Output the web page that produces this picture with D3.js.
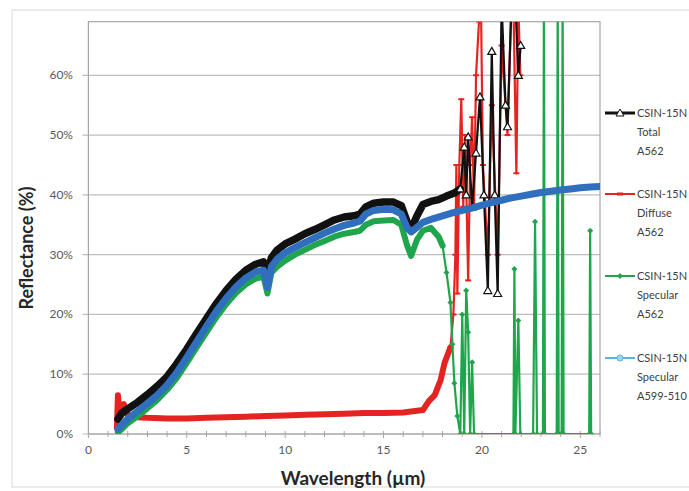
<!DOCTYPE html>
<html><head><meta charset="utf-8">
<script src="https://cdn.jsdelivr.net/npm/d3@7"></script>
<style>body{margin:0;background:#fff}svg{display:block}</style>
</head><body>
<svg id="c" width="689" height="491"></svg>
<script>
// ---- data ----
const xTicks = [0, 5, 10, 15, 20, 25];
const yTicks = [0, 10, 20, 30, 40, 50, 60];
const legendNames = [
  ["CSIN-15N", "Total", "A562"],
  ["CSIN-15N", "Diffuse", "A562"],
  ["CSIN-15N", "Specular", "A562"],
  ["CSIN-15N", "Specular", "A599-510"]
];
const total = [[1.5,2.5],[1.7,3.5],[2.0,4.2],[2.5,5.3],[3.0,6.6],[3.5,8.0],[4.0,9.6],[4.5,11.8],[5.0,14.2],[5.5,16.8],[6.0,19.3],[6.5,21.8],[7.0,24.0],[7.5,25.9],[8.0,27.4],[8.5,28.4],[8.9,28.8],[9.1,27.0],[9.3,29.5],[9.6,30.8],[10,31.8],[10.5,32.6],[11,33.5],[11.5,34.2],[12,35.0],[12.5,35.8],[13,36.3],[13.5,36.5],[13.8,36.8],[14.1,38.0],[14.5,38.6],[15,38.8],[15.5,38.8],[15.9,38.2],[16.2,35.5],[16.4,34.3],[16.7,36.5],[17.0,38.4],[17.4,38.9],[17.8,39.2],[18.2,39.8],[18.6,40.3],[18.9,41],[19.1,48],[19.2,40],[19.3,49.7],[19.5,38],[19.7,47],[19.9,56.4],[20.1,40],[20.3,24],[20.5,64],[20.65,40],[20.8,23.5],[21.0,72],[21.2,55],[21.3,51.4],[21.5,72],[21.7,72],[21.85,60],[21.97,65]];
const diffuse = [[1.45,1],[1.5,6.5],[1.6,3],[1.8,5],[2.0,3.2],[2.5,2.8],[3,2.7],[4,2.6],[5,2.6],[6,2.7],[7,2.8],[8,2.9],[9,3.0],[10,3.1],[11,3.2],[12,3.3],[13,3.4],[14,3.5],[15,3.5],[16,3.6],[17,4.0],[17.3,5.5],[17.6,6.5],[17.9,9],[18.1,11.9],[18.4,14.5],[18.55,20],[18.65,30],[18.7,45],[18.75,23.5],[18.85,45],[18.95,56],[19.05,38],[19.15,50],[19.3,25.7],[19.4,45],[19.5,53],[19.6,38],[19.7,60],[19.85,69],[19.95,72],[20.05,45],[20.3,30],[20.5,55],[20.8,30],[21.0,65],[21.3,50],[21.5,72],[21.6,72],[21.75,43.6],[21.85,72],[21.95,60]];
const specular = [[1.5,0.3],[1.7,0.8],[2.0,1.8],[2.5,3.0],[3.0,4.3],[3.5,5.7],[4.0,7.4],[4.5,9.4],[5.0,11.9],[5.5,14.5],[6.0,17.0],[6.5,19.5],[7.0,21.7],[7.5,23.6],[8.0,25.0],[8.5,26.0],[8.9,26.3],[9.1,23.5],[9.3,27.0],[9.6,28.0],[10,29.0],[10.5,30.0],[11,30.8],[11.5,31.6],[12,32.3],[12.5,33.0],[13,33.5],[13.5,33.8],[13.8,34.0],[14.1,35.0],[14.5,35.6],[15,35.7],[15.5,35.8],[15.9,35.0],[16.2,31.5],[16.4,29.8],[16.7,32.5],[17.0,34.0],[17.4,34.5],[17.8,33.0],[18.0,31.5],[18.2,27],[18.4,22],[18.5,15],[18.6,8.5],[18.75,3],[18.9,0],[19.0,20],[19.1,0],[19.2,24],[19.3,17],[19.4,0],[19.5,12],[19.6,0],[21.6,0],[21.65,27.6],[21.7,0],[21.85,19],[21.95,0],[22.6,0],[22.7,35.5],[22.8,0],[23.1,0],[23.15,75],[23.2,0],[23.8,0],[23.85,75],[23.9,0],[24.05,0],[24.1,75],[24.15,0],[25.45,0],[25.5,34],[25.55,0]];
const specular2 = [[1.5,0.8],[1.7,1.5],[2.0,2.5],[2.5,3.8],[3.0,5.1],[3.5,6.5],[4.0,8.2],[4.5,10.3],[5.0,12.8],[5.5,15.4],[6.0,18.0],[6.5,20.5],[7.0,22.7],[7.5,24.6],[8.0,26.1],[8.5,27.1],[8.9,27.4],[9.1,24.5],[9.3,28.0],[9.6,29.3],[10,30.3],[10.5,31.2],[11,32.0],[11.5,32.8],[12,33.6],[12.5,34.3],[13,34.9],[13.5,35.3],[13.8,35.6],[14.1,36.8],[14.5,37.4],[15,37.6],[15.5,37.5],[15.9,36.8],[16.2,34.5],[16.4,33.8],[16.7,34.6],[17.0,35.4],[17.5,36.0],[18,36.5],[18.5,37.0],[19,37.4],[19.5,37.8],[20,38.3],[20.5,38.7],[21,39.1],[21.5,39.5],[22,39.8],[22.5,40.1],[23,40.4],[23.5,40.6],[24,40.8],[24.5,41.0],[25,41.2],[25.5,41.3],[26,41.4]];

// ---- layout ----
const svg = d3.select("#c");
const L = 88.4, R = 600, T = 21.7, B = 434;
const x = d3.scaleLinear().domain([0, 26]).range([L, R]);
const y = d3.scaleLinear().domain([0, 68.97]).range([B, T]);
const font = "Lato, 'Open Sans', sans-serif";

svg.append("rect").attr("x", 12).attr("y", 10).attr("width", 700).attr("height", 477)
  .attr("fill", "#fff").attr("stroke", "#d9d9d9");

// gridlines
svg.append("g").selectAll("line").data(yTicks).join("line")
  .attr("x1", L - 6).attr("x2", R).attr("y1", d => y(d)).attr("y2", d => y(d))
  .attr("stroke", "#bdbdbd").attr("stroke-width", 1.2);
// plot border
svg.append("rect").attr("x", L).attr("y", T).attr("width", R - L).attr("height", B - T)
  .attr("fill", "none").attr("stroke", "#a6a6a6").attr("stroke-width", 1.2);

// y labels
svg.append("g").selectAll("text").data(yTicks).join("text")
  .attr("x", 73).attr("y", d => y(d) + 4).attr("text-anchor", "end")
  .attr("font-family", font).attr("font-size", 12).attr("fill", "#595959")
  .text(d => d + "%");

// x axis minor ticks
svg.append("g").selectAll("line").data(d3.range(0, 27)).join("line")
  .attr("x1", d => x(d)).attr("x2", d => x(d))
  .attr("y1", B - 3).attr("y2", d => B + (d % 5 === 0 ? 4 : 3))
  .attr("stroke", "#a6a6a6");
svg.append("g").selectAll("text").data(xTicks).join("text")
  .attr("x", d => x(d)).attr("y", B + 20).attr("text-anchor", "middle")
  .attr("font-family", font).attr("font-size", 12).attr("fill", "#595959")
  .text(d => d);

// titles
svg.append("text").attr("x", 353).attr("y", 485).attr("text-anchor", "middle")
  .attr("font-family", font).attr("font-weight", "bold").attr("font-size", 19)
  .attr("fill", "#262626").text("Wavelength (µm)");
svg.append("text").attr("transform", "translate(33,248) rotate(-90)").attr("text-anchor", "middle")
  .attr("font-family", font).attr("font-weight", "bold").attr("font-size", 18)
  .attr("fill", "#262626").text("Reflectance (%)");

// series
svg.append("clipPath").attr("id", "pc").append("rect")
  .attr("x", L).attr("y", T).attr("width", R - L).attr("height", B - T);
const plot = svg.append("g").attr("clip-path", "url(#pc)");
const line = d3.line().x(d => x(d[0])).y(d => y(d[1]));

const series = [
  {data: diffuse, color: "#e52421", split: 18.4, w: 6, mk: "dash"},
  {data: total, color: "#111", split: 18.9, w: 7.5, mk: "tri"},
  {data: specular, color: "#1fa64d", split: 18.0, w: 6, mk: "dia"},
  {data: specular2, color: "#2f6fbd", split: 99, w: 7, mk: "circ"}
];
function drawSeries(s) {
  const dense = s.data.filter(d => d[0] <= s.split);
  const sparse = s.data.filter(d => d[0] >= dense[dense.length - 1][0]);
  plot.append("path").attr("d", line(dense)).attr("fill", "none")
    .attr("stroke", s.color).attr("stroke-width", s.w).attr("stroke-linejoin", "round").attr("stroke-linecap", "round");
  if (sparse.length > 1) {
    plot.append("path").attr("d", line(sparse)).attr("fill", "none")
      .attr("stroke", s.color).attr("stroke-width", 2.2).attr("stroke-linejoin", "round");
    const g = plot.append("g");
    sparse.forEach(d => {
      const px = x(d[0]), py = y(d[1]);
      if (s.mk === "tri") g.append("path").attr("d", `M${px},${py-4}L${px+4},${py+3}L${px-4},${py+3}Z`).attr("fill", "#fff").attr("stroke", s.color).attr("stroke-width", 1.2);
      else if (s.mk === "dia") g.append("path").attr("d", `M${px},${py-3}L${px+3},${py}L${px},${py+3}L${px-3},${py}Z`).attr("fill", s.color);
      else if (s.mk === "dash") g.append("path").attr("d", `M${px-3},${py}L${px+3},${py}`).attr("stroke", s.color).attr("stroke-width", 2);
    });
  }
}
series.forEach(drawSeries);

// legend
const legColors = ["#111", "#e52421", "#1fa64d", "#5ab4e0"];
const legMk = ["tri", "dash", "dia", "circ"];
const legY = [113, 194, 276, 358];
legendNames.forEach((lines, i) => {
  const g = svg.append("g");
  const yy = legY[i];
  g.append("line").attr("x1", 605).attr("x2", 635).attr("y1", yy).attr("y2", yy)
    .attr("stroke", legColors[i]).attr("stroke-width", i === 0 ? 3 : 2);
  const mk = legMk[i];
  if (mk === "tri") g.append("path").attr("d", `M620,${yy-4}L624,${yy+3}L616,${yy+3}Z`).attr("fill", "#fff").attr("stroke", "#111");
  else if (mk === "dia") g.append("path").attr("d", `M620,${yy-3}L623,${yy}L620,${yy+3}L617,${yy}Z`).attr("fill", legColors[i]);
  else if (mk === "circ") g.append("circle").attr("cx", 620).attr("cy", yy).attr("r", 3).attr("fill", "#9fd6ef").attr("stroke", legColors[i]);
  else g.append("path").attr("d", `M617,${yy}L623,${yy}`).attr("stroke", legColors[i]).attr("stroke-width", 3);
  lines.forEach((t, j) => {
    g.append("text").attr("x", 637).attr("y", yy + 4 + j * 19)
      .attr("font-family", font).attr("font-size", 11).attr("fill", "#404040").text(t);
  });
});
</script>
</body></html>
